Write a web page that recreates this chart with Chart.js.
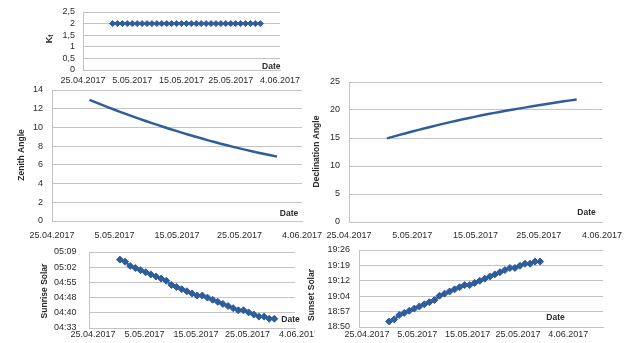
<!DOCTYPE html>
<html>
<head>
<meta charset="utf-8">
<script src="https://cdn.jsdelivr.net/npm/chart.js@4.4.1/dist/chart.umd.min.js"></script>
<style>
    html, body { margin: 0; padding: 0; background: #fff; }
    body { width: 634px; height: 343px; position: relative; overflow: hidden; }
    .box { position: absolute; }
</style>
</head>
<body>
<div class="box" style="left:0;top:0;width:300px;height:90px"><canvas id="ktChart"></canvas></div>
<div class="box" style="left:0;top:75px;width:322px;height:170px"><canvas id="zenithChart"></canvas></div>
<div class="box" style="left:300px;top:70px;width:334px;height:175px"><canvas id="declChart"></canvas></div>
<div class="box" style="left:0;top:240px;width:315px;height:103px"><canvas id="sunriseChart"></canvas></div>
<div class="box" style="left:300px;top:240px;width:334px;height:103px"><canvas id="sunsetChart"></canvas></div>
<script>
// ── Data ──
const dates = [
    '1.05.2017', '2.05.2017', '3.05.2017', '4.05.2017', '5.05.2017', '6.05.2017', '7.05.2017', '8.05.2017',
    '9.05.2017', '10.05.2017', '11.05.2017', '12.05.2017', '13.05.2017', '14.05.2017', '15.05.2017', '16.05.2017',
    '17.05.2017', '18.05.2017', '19.05.2017', '20.05.2017', '21.05.2017', '22.05.2017', '23.05.2017', '24.05.2017',
    '25.05.2017', '26.05.2017', '27.05.2017', '28.05.2017', '29.05.2017', '30.05.2017', '31.05.2017'
];
const xTickLabels = ['25.04.2017', '5.05.2017', '15.05.2017', '25.05.2017', '4.06.2017'];

const ktValues = [2, 2, 2, 2, 2, 2, 2, 2, 2, 2, 2, 2, 2, 2, 2, 2, 2, 2, 2, 2, 2, 2, 2, 2, 2, 2, 2, 2, 2, 2, 2];
const zenithValues = [
    12.94, 12.67, 12.41, 12.15, 11.89, 11.64, 11.40, 11.16, 10.92, 10.69, 10.46, 10.24, 10.02, 9.81, 9.60, 9.39,
    9.19, 9.00, 8.81, 8.62, 8.44, 8.26, 8.09, 7.92, 7.76, 7.60, 7.45, 7.30, 7.16, 7.02, 6.88
];
const declinationValues = [
    14.93, 15.25, 15.56, 15.86, 16.16, 16.45, 16.74, 17.02, 17.30, 17.57, 17.83, 18.09, 18.34, 18.58, 18.82, 19.05,
    19.27, 19.49, 19.70, 19.90, 20.10, 20.29, 20.47, 20.66, 20.85, 21.02, 21.20, 21.38, 21.55, 21.72, 21.88
];
const sunriseTimes = [
    '05:06', '05:05', '05:03', '05:02', '05:01', '05:00', '04:59', '04:58', '04:57', '04:56', '04:54', '04:53',
    '04:52', '04:51', '04:50', '04:49', '04:49', '04:48', '04:47', '04:46', '04:45', '04:44', '04:43', '04:42',
    '04:42', '04:41', '04:40', '04:39', '04:39', '04:38', '04:38'
];
const sunsetTimes = [
    '18:53', '18:54', '18:56', '18:57', '18:58', '18:59', '19:00', '19:01', '19:02', '19:03', '19:05', '19:06',
    '19:07', '19:08', '19:09', '19:10', '19:10', '19:11', '19:12', '19:13', '19:14', '19:15', '19:16', '19:17',
    '19:18', '19:18', '19:19', '19:20', '19:20', '19:21', '19:21'
];

const ktTickLabels = ['0', '0,5', '1', '1,5', '2', '2,5'];
const zenithTickLabels = ['0', '2', '4', '6', '8', '10', '12', '14'];
const declinationTickLabels = ['0', '5', '10', '15', '20', '25'];
const sunriseTickLabels = ['04:33', '04:40', '04:48', '04:55', '05:02', '05:09'];
const sunsetTickLabels = ['18:50', '18:57', '19:04', '19:12', '19:19', '19:26'];

// ── Helpers ──
const BLUE = '#2f5d9c';
const GRID = '#c3c3c3';
const TEXT = '#2b2b2b';
const FONT = '"Liberation Sans", Arial, sans-serif';

Chart.defaults.font.family = FONT;
Chart.defaults.color = TEXT;

const dayOf = s => {
    const [d, m, y] = s.split('.').map(Number);
    return (Date.UTC(y, m - 1, d) - Date.UTC(2017, 3, 25)) / 86400000;
};
const minutesOf = t => {
    const [h, m] = t.split(':').map(Number);
    return h * 60 + m;
};
const points = ys => dates.map((d, i) => ({ x: dayOf(d), y: ys[i] }));

// axis titles + the "Date" caption drawn inside the plot
function textPlugin(c) {
    return {
        id: 'axisText',
        afterDraw(chart) {
            const ctx = chart.ctx;
            ctx.save();
            ctx.fillStyle = TEXT;
            ctx.textAlign = 'center';
            ctx.textBaseline = 'middle';
            ctx.font = `bold 8.5px ${FONT}`;
            ctx.fillText('Date', c.date[0] - c.left, c.date[1] - c.top);

            ctx.translate(c.title[0] - c.left, c.title[1] - c.top);
            ctx.rotate(-Math.PI / 2);
            if (c.sub) {
                ctx.font = `bold 9px ${FONT}`;
                const wK = ctx.measureText(c.text).width;
                ctx.font = `bold 6.5px ${FONT}`;
                const wt = ctx.measureText(c.sub).width;
                const x0 = -(wK + wt) / 2;
                ctx.textAlign = 'left';
                ctx.font = `bold 9px ${FONT}`;
                ctx.fillText(c.text, x0, 0);
                ctx.font = `bold 6.5px ${FONT}`;
                ctx.fillText(c.sub, x0 + wK, 2);
            } else {
                ctx.fillText(c.text, 0, 0);
            }
            ctx.restore();
        }
    };
}

function makeChart(id, c) {
    const yMax = c.yMin + c.yStep * (c.yLabels.length - 1);
    return new Chart(document.getElementById(id), {
        type: 'line',
        data: {
            datasets: [{
                data: c.data,
                borderColor: BLUE,
                backgroundColor: BLUE,
                borderWidth: c.lineWidth,
                pointStyle: 'rectRot',
                pointRadius: c.pointRadius,
                pointBorderWidth: 1,
                pointBorderColor: BLUE,
                tension: 0,
                fill: false,
            }]
        },
        options: {
            responsive: true,
            maintainAspectRatio: false,
            animation: false,
            events: [],
            layout: { padding: { top: c.padTop, right: c.padRight, left: 0, bottom: 0 } },
            plugins: { legend: { display: false }, tooltip: { enabled: false } },
            scales: {
                x: {
                    type: 'linear',
                    min: c.xMin,
                    max: c.xMax,
                    afterBuildTicks: s => { s.ticks = xTickLabels.map((_, i) => ({ value: i * 10 })); },
                    afterFit: s => { s.height = c.xH; s.paddingLeft = 0; s.paddingRight = 0; },
                    grid: { display: false, drawTicks: false },
                    border: { display: true, color: GRID },
                    ticks: {
                        padding: c.xPad,
                        labelOffset: c.labelOffset || 0,
                        autoSkip: false,
                        maxRotation: 0,
                        minRotation: 0,
                        font: { size: 9 },
                        color: TEXT,
                        callback: (v, i) => xTickLabels[i]
                    }
                },
                y: {
                    min: c.yMin,
                    max: yMax,
                    afterBuildTicks: s => { s.ticks = c.yLabels.map((_, i) => ({ value: c.yMin + i * c.yStep })); },
                    afterFit: s => { s.width = c.yW; s.paddingTop = 0; s.paddingBottom = 0; },
                    grid: { color: GRID, drawTicks: false },
                    border: { display: true, color: GRID },
                    ticks: {
                        padding: c.yPad,
                        autoSkip: false,
                        font: { size: 9 },
                        color: TEXT,
                        callback: (v, i) => c.yLabels[i]
                    }
                }
            }
        },
        plugins: [textPlugin(c)]
    });
}

// ── Charts ──
makeChart('ktChart', {
    left: 0, top: 0, yW: 83, xH: 20, padTop: 12, padRight: 20, xPad: 5, yPad: 8,
    xMin: 0, xMax: 40, yMin: 0, yStep: 0.5, yLabels: ktTickLabels,
    data: points(ktValues), lineWidth: 2, pointRadius: 3,
    text: 'K', sub: 't', title: [49.5, 39], date: [271.3, 66.5]
});

makeChart('zenithChart', {
    left: 0, top: 75, yW: 52, xH: 24, padTop: 15, padRight: 20, xPad: 9.5, yPad: 9,
    xMin: 0, xMax: 40, yMin: 0, yStep: 2, yLabels: zenithTickLabels,
    data: points(zenithValues), lineWidth: 2.5, pointRadius: 0,
    text: 'Zenith Angle', title: [21.7, 155], date: [289, 213.3]
});

makeChart('declChart', {
    left: 300, top: 70, yW: 49, xH: 23, padTop: 12, padRight: 32, xPad: 8.5, yPad: 9,
    xMin: 0, xMax: 40, yMin: 0, yStep: 5, yLabels: declinationTickLabels,
    data: points(declinationValues), lineWidth: 2.5, pointRadius: 0,
    text: 'Declination Angle', title: [317, 151.5], date: [586.5, 212.7]
});

makeChart('sunriseChart', {
    left: 0, top: 240, yW: 89, xH: 15, padTop: 12, padRight: 20, xPad: 1.2, yPad: 12.5, labelOffset: 4,
    xMin: 0, xMax: 40, yMin: 273.6, yStep: 7.2, yLabels: sunriseTickLabels,
    data: points(sunriseTimes.map(minutesOf)), lineWidth: 2, pointRadius: 3.5,
    text: 'Sunrise Solar', title: [45, 291], date: [290.5, 320]
});

makeChart('sunsetChart', {
    left: 300, top: 240, yW: 59, xH: 16, padTop: 10, padRight: 31, xPad: 2, yPad: 9, labelOffset: 8,
    xMin: 0, xMax: 48.5, yMin: 1130.4, yStep: 7.2, yLabels: sunsetTickLabels,
    data: points(sunsetTimes.map(minutesOf)), lineWidth: 2, pointRadius: 3.5,
    text: 'Sunset Solar', title: [311.7, 295], date: [555.5, 317.7]
});
</script>
</body>
</html>
